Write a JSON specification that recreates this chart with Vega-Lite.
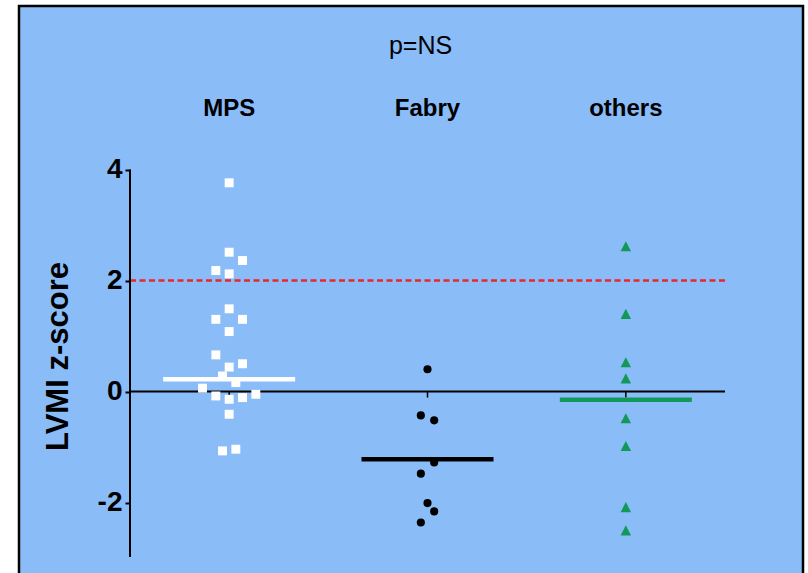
{
  "$schema": "https://vega.github.io/schema/vega-lite/v6.json",
  "width": 784,
  "height": 567,
  "autosize": {"type": "none"},
  "padding": {"left": 19, "top": 6, "right": 5, "bottom": 0},
  "background": "white",
  "config": {
    "view": {"fill": "#8ABCF8", "stroke": "#000000", "strokeWidth": 2.5, "strokeDash": [1351, 784, 567, 10]},
    "font": "Liberation Sans"
  },
  "datasets": {
    "points": [
      {"group": "MPS", "z": 3.76, "slot": 0},
      {"group": "MPS", "z": 2.51, "slot": 0},
      {"group": "MPS", "z": 2.36, "slot": 2},
      {"group": "MPS", "z": 2.18, "slot": -2},
      {"group": "MPS", "z": 2.12, "slot": 0},
      {"group": "MPS", "z": 1.49, "slot": 0},
      {"group": "MPS", "z": 1.30, "slot": -2},
      {"group": "MPS", "z": 1.30, "slot": 2},
      {"group": "MPS", "z": 1.08, "slot": 0},
      {"group": "MPS", "z": 0.66, "slot": -2},
      {"group": "MPS", "z": 0.50, "slot": 2},
      {"group": "MPS", "z": 0.44, "slot": 0},
      {"group": "MPS", "z": 0.28, "slot": -1},
      {"group": "MPS", "z": 0.16, "slot": 1},
      {"group": "MPS", "z": 0.06, "slot": -4},
      {"group": "MPS", "z": -0.08, "slot": -2},
      {"group": "MPS", "z": -0.14, "slot": 0},
      {"group": "MPS", "z": -0.11, "slot": 2},
      {"group": "MPS", "z": -0.05, "slot": 4},
      {"group": "MPS", "z": -0.41, "slot": 0},
      {"group": "MPS", "z": -1.07, "slot": -1},
      {"group": "MPS", "z": -1.04, "slot": 1},
      {"group": "Fabry", "z": 0.40, "slot": 0},
      {"group": "Fabry", "z": -0.43, "slot": -1},
      {"group": "Fabry", "z": -0.52, "slot": 1},
      {"group": "Fabry", "z": -1.28, "slot": 1},
      {"group": "Fabry", "z": -1.48, "slot": -1},
      {"group": "Fabry", "z": -2.01, "slot": 0},
      {"group": "Fabry", "z": -2.16, "slot": 1},
      {"group": "Fabry", "z": -2.36, "slot": -1},
      {"group": "others", "z": 2.61, "slot": 0},
      {"group": "others", "z": 1.39, "slot": 0},
      {"group": "others", "z": 0.52, "slot": 0},
      {"group": "others", "z": 0.23, "slot": 0},
      {"group": "others", "z": -0.49, "slot": 0},
      {"group": "others", "z": -0.99, "slot": 0},
      {"group": "others", "z": -2.09, "slot": 0},
      {"group": "others", "z": -2.51, "slot": 0}
    ],
    "means": [
      {"group": "MPS", "mean": 0.22},
      {"group": "Fabry", "mean": -1.22},
      {"group": "others", "mean": -0.15}
    ],
    "refs": [
      {"kind": "threshold", "ref": 2}
    ],
    "zero": [
      {"kind": "baseline", "ref": 0}
    ],
    "axisline": [
      {"top": 4, "bottom": -2.98}
    ]
  },
  "layer": [
    {
      "data": {"name": "refs"},
      "mark": {"type": "rule", "color": "#E8262B", "strokeWidth": 2.5, "strokeDash": [6, 3.5]},
      "encoding": {
        "x": {"datum": "MPS", "bandPosition": 0, "type": "nominal", "scale": {"type": "band", "domain": ["MPS", "Fabry", "others"], "range": [111, 706], "paddingInner": 0, "paddingOuter": 0}},
        "x2": {"datum": "others", "bandPosition": 1},
        "y": {"field": "ref", "type": "quantitative", "title": "LVMI z-score", "scale": {"domain": [-3.27, 6.946], "nice": false, "zero": false}}
      }
    },
    {
      "data": {"name": "zero"},
      "mark": {"type": "rule", "color": "#000000", "strokeWidth": 2},
      "encoding": {
        "x": {"datum": "MPS", "bandPosition": 0, "type": "nominal"},
        "x2": {"datum": "others", "bandPosition": 1},
        "y": {"field": "ref", "type": "quantitative", "title": "LVMI z-score"}
      }
    },
    {
      "data": {"name": "axisline"},
      "mark": {"type": "rule", "color": "#000000", "strokeWidth": 2},
      "encoding": {
        "x": {"datum": "MPS", "bandPosition": 0, "type": "nominal"},
        "y": {"field": "top", "type": "quantitative", "title": "LVMI z-score"},
        "y2": {"field": "bottom"}
      }
    },
    {
      "data": {"name": "means"},
      "mark": {"type": "rule", "color": "#000000", "strokeWidth": 1.5},
      "encoding": {
        "x": {"field": "group", "type": "nominal", "title": "p=NS"},
        "y": {"datum": 0, "type": "quantitative"},
        "y2": {"datum": -0.11}
      }
    },
    {
      "data": {"name": "means"},
      "mark": {"type": "tick", "size": 132, "thickness": 4.5, "orient": "horizontal", "opacity": 1},
      "encoding": {
        "x": {"field": "group", "type": "nominal", "title": "p=NS"},
        "y": {"field": "mean", "type": "quantitative", "title": "LVMI z-score"},
        "color": {"field": "group", "type": "nominal", "legend": null, "scale": {"domain": ["MPS", "Fabry", "others"], "range": ["#FFFFFF", "#000000", "#12995A"]}}
      }
    },
    {
      "data": {"name": "points"},
      "mark": {"type": "point", "filled": true, "opacity": 1},
      "encoding": {
        "x": {
          "field": "group", "type": "nominal", "title": "p=NS",
          "axis": {
            "orient": "top", "offset": -109, "domain": false, "ticks": false, "tickSize": 0,
            "labelPadding": 0, "labelBaseline": "alphabetic", "labelAngle": 0, "labelAlign": "center",
            "labelFont": "Liberation Sans", "labelFontSize": 24, "labelFontWeight": "bold", "labelColor": "#000000",
            "bandPosition": 0.5,
            "titleFont": "Liberation Sans", "titleFontSize": 25, "titleFontWeight": "normal", "titleColor": "#000000",
            "titleX": 401, "titleY": -62, "titleAlign": "center", "titleBaseline": "alphabetic", "titleAngle": 0
          }
        },
        "xOffset": {"field": "slot", "type": "quantitative", "scale": {"domain": [-4, 4], "range": [72.5, 125.84]}},
        "y": {
          "field": "z", "type": "quantitative", "title": "LVMI z-score",
          "axis": {
            "orient": "left", "offset": -111, "values": [-2, 0, 2, 4], "domain": false, "grid": false,
            "ticks": true, "tickSize": 5, "tickWidth": 2, "tickColor": "#000000",
            "labelExpr": "'' + datum.value",
            "labelFont": "Liberation Sans", "labelFontSize": 28, "labelFontWeight": "bold", "labelColor": "#000000", "labelPadding": 3,
            "titleFont": "Liberation Sans", "titleFontSize": 31, "titleFontWeight": "bold", "titleColor": "#000000",
            "titleX": -72, "titleY": 350, "titleAngle": -90, "titleAlign": "center", "titleBaseline": "middle"
          }
        },
        "color": {"field": "group", "type": "nominal", "legend": null, "scale": {"domain": ["MPS", "Fabry", "others"], "range": ["#FFFFFF", "#000000", "#12995A"]}},
        "shape": {"field": "group", "type": "nominal", "legend": null, "scale": {"domain": ["MPS", "Fabry", "others"], "range": ["square", "circle", "M0,-0.95L0.9,0.8L-0.9,0.8Z"]}},
        "size": {"field": "group", "type": "nominal", "legend": null, "scale": {"type": "ordinal", "domain": ["MPS", "Fabry", "others"], "range": [80, 66, 135]}}
      }
    }
  ]
}
